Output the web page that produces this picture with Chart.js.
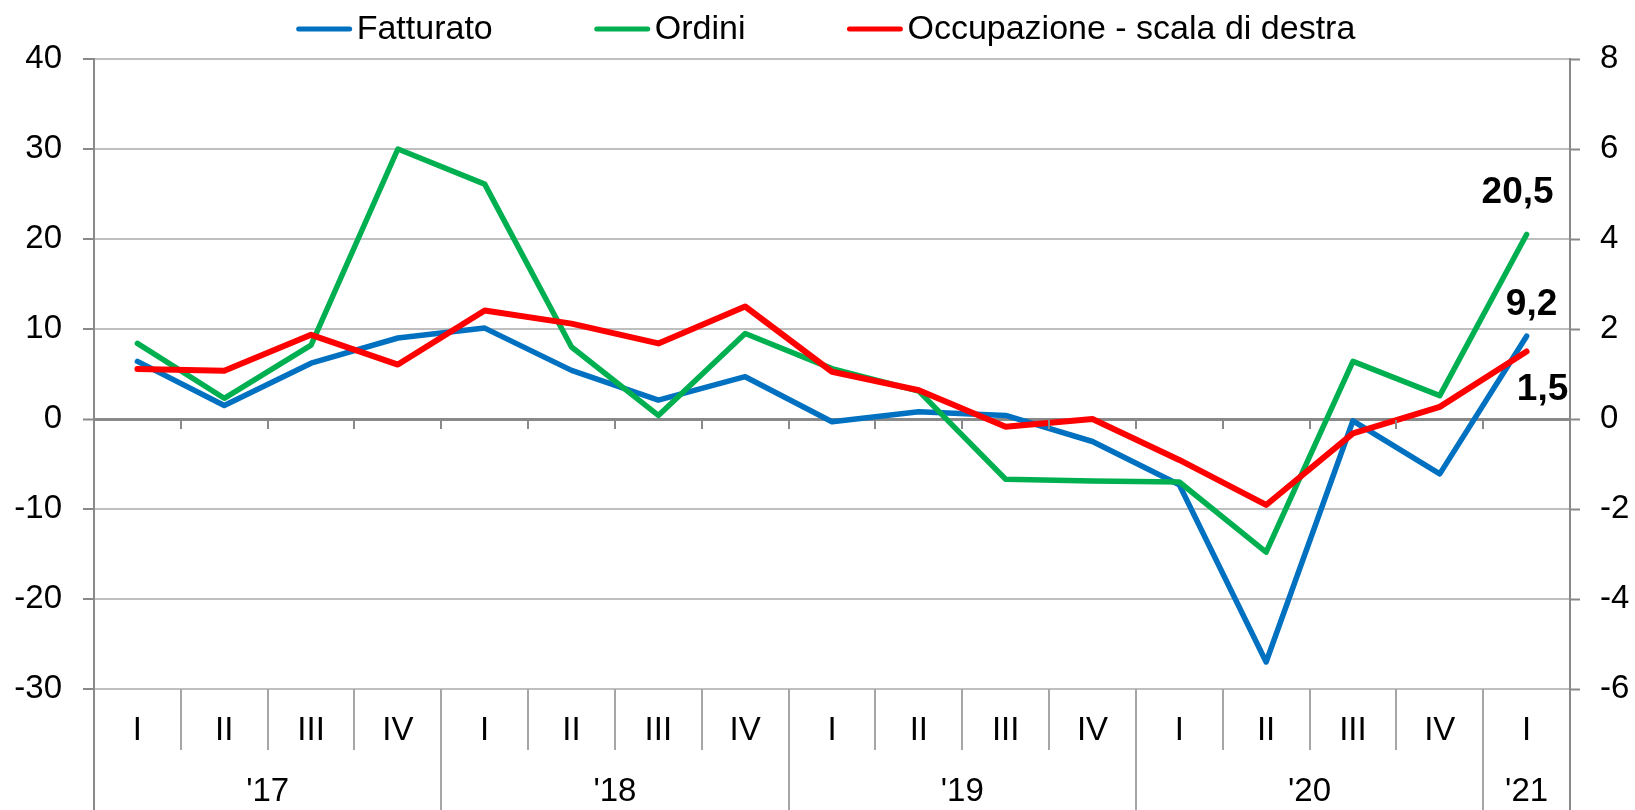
<!DOCTYPE html>
<html>
<head>
<meta charset="utf-8">
<script src="https://cdn.jsdelivr.net/npm/chart.js@4/dist/chart.umd.min.js"></script>
<style>
  html, body { margin: 0; padding: 0; background: #fff; }
  canvas { display: block; }
</style>
</head>
<body>
<canvas id="chart" width="1635" height="810"></canvas>
<script>
// quarters on the x axis, grouped by year
const quarters = ['I', 'II', 'III', 'IV', 'I', 'II', 'III', 'IV', 'I', 'II', 'III', 'IV', 'I', 'II', 'III', 'IV', 'I'];
const years = ["'17", "'18", "'19", "'20", "'21"];
const yearSpans = [4, 4, 4, 4, 1];

// left scale
const fatturato = [6.4, 1.5, 6.2, 9.0, 10.1, 5.4, 2.1, 4.7, -0.3, 0.8, 0.4, -2.5, -7.3, -27.0, -0.2, -6.1, 9.2];
const ordini = [8.4, 2.3, 8.2, 30.0, 26.1, 8.0, 0.4, 9.5, 5.6, 3.1, -6.7, -6.9, -7.0, -14.8, 6.4, 2.6, 20.5];
// right scale
const occupazione = [1.11, 1.07, 1.87, 1.21, 2.41, 2.12, 1.68, 2.50, 1.05, 0.64, -0.17, 0.0, -0.91, -1.91, -0.32, 0.27, 1.5];

const seriesNames = ['Fatturato', 'Ordini', 'Occupazione - scala di destra'];
const seriesColors = ['#0070C0', '#00B050', '#FF0000'];

const FONT = "'Liberation Sans', Arial, sans-serif";
const AXIS_GRAY = '#898989';
Chart.defaults.font.family = FONT;
Chart.defaults.color = '#000';

// legend drawn by hand so the gap between line and text matches
const topLegend = {
  id: 'topLegend',
  afterDraw(chart) {
    const ctx = chart.ctx;
    ctx.save();
    ctx.font = '34px ' + FONT;
    ctx.textBaseline = 'middle';
    const lineLen = 51, textGap = 58, itemGap = 104;
    const widths = seriesNames.map(t => ctx.measureText(t).width);
    let total = 0;
    widths.forEach((w, i) => { total += textGap + w + (i < widths.length - 1 ? itemGap : 0); });
    let x = 827 - total / 2;
    const y = 29;
    seriesNames.forEach((name, i) => {
      ctx.strokeStyle = seriesColors[i];
      ctx.lineWidth = 5;
      ctx.lineCap = 'round';
      ctx.beginPath();
      ctx.moveTo(x, y);
      ctx.lineTo(x + lineLen, y);
      ctx.stroke();
      ctx.fillStyle = '#000';
      ctx.fillText(name, x + textGap, y + 1);
      x += textGap + widths[i] + itemGap;
    });
    ctx.restore();
  }
};

// category boxes under the plot, zero-line ticks, year labels
const categoryAxis = {
  id: 'categoryAxis',
  afterDraw(chart) {
    const ctx = chart.ctx;
    const xs = chart.scales.x;
    const area = chart.chartArea;
    const H = chart.height;
    const step = xs.getPixelForValue(1) - xs.getPixelForValue(0);
    const y0 = chart.scales.y.getPixelForValue(0);
    const yearEnds = [];
    let acc = 0;
    yearSpans.forEach(s => { acc += s; yearEnds.push(acc); });

    ctx.save();
    ctx.lineWidth = 2;
    // ticks on the zero line
    ctx.strokeStyle = AXIS_GRAY;
    for (let i = 1; i < quarters.length; i++) {
      const bx = Math.round(xs.getPixelForValue(i) - step / 2);
      ctx.beginPath();
      ctx.moveTo(bx, y0 + 1);
      ctx.lineTo(bx, y0 + 10);
      ctx.stroke();
    }
    // separators in the label area
    ctx.strokeStyle = '#A6A6A6';
    for (let i = 1; i < quarters.length; i++) {
      const bx = Math.round(xs.getPixelForValue(i) - step / 2);
      const isYear = yearEnds.includes(i);
      ctx.beginPath();
      ctx.moveTo(bx, area.bottom);
      ctx.lineTo(bx, isYear ? H : area.bottom + 61);
      ctx.stroke();
    }
    // axis lines carried down to the bottom
    ctx.strokeStyle = AXIS_GRAY;
    [area.left, area.right].forEach(ax => {
      ctx.beginPath();
      ctx.moveTo(ax, area.bottom);
      ctx.lineTo(ax, H);
      ctx.stroke();
    });

    ctx.fillStyle = '#000';
    ctx.font = '33px ' + FONT;
    ctx.textAlign = 'center';
    ctx.textBaseline = 'middle';
    quarters.forEach((q, i) => ctx.fillText(q, xs.getPixelForValue(i), area.bottom + 42));
    let start = 0;
    years.forEach((yr, k) => {
      const end = start + yearSpans[k] - 1;
      const cx = (xs.getPixelForValue(start) + xs.getPixelForValue(end)) / 2;
      ctx.fillText(yr, cx, area.bottom + 103);
      start = end + 1;
    });
    ctx.restore();
  }
};

// bold value labels on the last quarter
const lastLabels = {
  id: 'lastLabels',
  afterDatasetsDraw(chart) {
    const offsets = [[5, -31], [-9, -42], [16, 38]];
    const ctx = chart.ctx;
    ctx.save();
    ctx.font = 'bold 37px ' + FONT;
    ctx.fillStyle = '#000';
    ctx.textAlign = 'center';
    ctx.textBaseline = 'middle';
    chart.data.datasets.forEach((ds, i) => {
      const pts = chart.getDatasetMeta(i).data;
      const p = pts[pts.length - 1];
      const v = ds.data[ds.data.length - 1];
      ctx.fillText(v.toFixed(1).replace('.', ','), p.x + offsets[i][0], p.y + offsets[i][1]);
    });
    ctx.restore();
  }
};

new Chart(document.getElementById('chart'), {
  type: 'line',
  data: {
    labels: quarters,
    datasets: [
      { label: seriesNames[0], data: fatturato, borderColor: seriesColors[0], borderWidth: 5.5, yAxisID: 'y', order: 2 },
      { label: seriesNames[1], data: ordini, borderColor: seriesColors[1], borderWidth: 5.5, yAxisID: 'y', order: 1 },
      { label: seriesNames[2], data: occupazione, borderColor: seriesColors[2], borderWidth: 6, yAxisID: 'y2', order: 0 }
    ].map(d => Object.assign(d, {
      pointRadius: 0,
      tension: 0,
      fill: false,
      borderCapStyle: 'round',
      borderJoinStyle: 'round'
    }))
  },
  options: {
    responsive: false,
    animation: false,
    layout: { padding: { top: 59, left: 0, right: 0, bottom: 0 } },
    plugins: {
      legend: { display: false },
      tooltip: { enabled: false }
    },
    scales: {
      x: {
        offset: true,
        grid: { display: false },
        border: { display: false },
        ticks: { display: false },
        afterFit(s) { s.height = 121; }
      },
      y: {
        position: 'left',
        min: -30,
        max: 40,
        ticks: { stepSize: 10, font: { size: 33 }, color: '#000', padding: 21 },
        grid: {
          color: c => (c.tick && c.tick.value === 0 ? AXIS_GRAY : '#BFBFBF'),
          lineWidth: c => (c.tick && c.tick.value === 0 ? 3 : 2),
          tickColor: AXIS_GRAY,
          tickLength: 11,
          tickWidth: 2
        },
        border: { color: AXIS_GRAY, width: 2 },
        afterFit(s) { s.width = 94; }
      },
      y2: {
        position: 'right',
        min: -6,
        max: 8,
        ticks: { stepSize: 2, font: { size: 33 }, color: '#000', padding: 20 },
        grid: { drawOnChartArea: false, tickColor: AXIS_GRAY, tickLength: 10, tickWidth: 2 },
        border: { color: AXIS_GRAY, width: 2 },
        afterFit(s) { s.width = 65; }
      }
    }
  },
  plugins: [topLegend, categoryAxis, lastLabels]
});
</script>
</body>
</html>
